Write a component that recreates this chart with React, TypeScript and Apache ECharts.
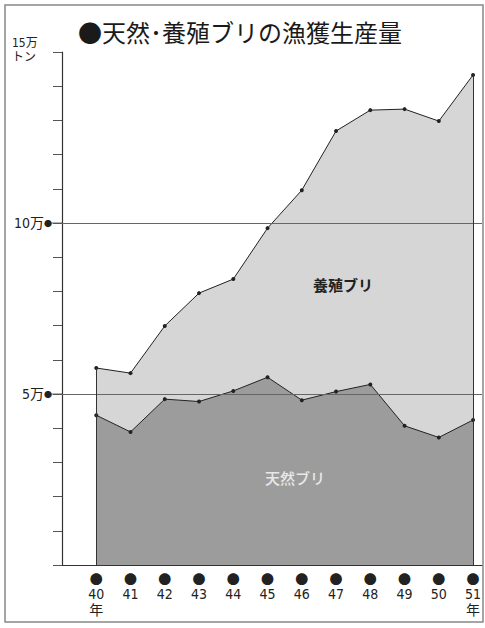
import React, { useEffect, useRef } from 'react';
import * as echarts from 'echarts';

const years = [40, 41, 42, 43, 44, 45, 46, 47, 48, 49, 50, 51];
const totalCatch = [5.76, 5.61, 6.99, 7.95, 8.36, 9.85, 10.96, 12.69, 13.3, 13.33, 12.98, 14.33];
const naturalCatch = [4.38, 3.89, 4.85, 4.78, 5.09, 5.49, 4.82, 5.07, 5.28, 4.07, 3.73, 4.24];
const gridValues = [5, 10];
const titleText = '●天然･養殖ブリの漁獲生産量';
const unitLines = ['15万', 'トン'];
const seriesNames = ['養殖ブリ', '天然ブリ'];
const labelAnchors = [
  [47.2, 8.2],
  [45.8, 2.55],
];

export default function App() {
  const ref = useRef<HTMLDivElement>(null);
  useEffect(() => {
    const chart = echarts.init(ref.current!, null, { renderer: 'svg' });
    const NUM = '"Liberation Sans Narrow", "DejaVu Sans Condensed", "Noto Sans CJK JP", sans-serif';
    const CJK = '"Noto Sans CJK JP", sans-serif';
    const first = years[0];
    const last = years[years.length - 1];
    chart.setOption({
      animation: false,
      grid: { left: 62, right: 0, top: 52, bottom: 63 },
      xAxis: {
        type: 'value',
        min: 39,
        max: 51.26,
        interval: 1,
        axisLine: { lineStyle: { color: '#333', width: 1.2 } },
        axisTick: { show: false },
        splitLine: { show: false },
        axisLabel: {
          margin: 5,
          formatter: (v: number) => {
            const r = Math.round(v);
            if (Math.abs(v - r) > 1e-6 || years.indexOf(r) < 0) return '';
            return r === first || r === last ? `{d|●}\n{n|${r}}\n{n|年}` : `{d|●}\n{n|${r}}`;
          },
          rich: {
            d: { fontSize: 13, fontFamily: CJK, color: '#222', lineHeight: 16 },
            n: { fontSize: 14, fontFamily: NUM, color: '#222', lineHeight: 16 },
          },
        },
      },
      yAxis: {
        type: 'value',
        min: 0,
        max: 15,
        interval: 1,
        axisLine: { show: true, lineStyle: { color: '#333', width: 1.2 } },
        axisTick: { show: true, inside: false, length: 9, lineStyle: { color: '#555' } },
        splitLine: { show: false },
        axisLabel: {
          margin: 10,
          formatter: (v: number) => (gridValues.indexOf(v) >= 0 ? `{t|${v}万}{d|●}` : ''),
          rich: {
            t: { fontSize: 14, fontFamily: NUM, color: '#222' },
            d: { fontSize: 8, fontFamily: CJK, color: '#222' },
          },
        },
      },
      series: [
        {
          name: seriesNames[0],
          type: 'line',
          z: 2,
          data: years.map((y, i) => [y, totalCatch[i]]),
          symbol: 'circle',
          symbolSize: 4,
          itemStyle: { color: '#222' },
          lineStyle: { color: '#222', width: 1 },
          areaStyle: { color: '#d6d6d6', opacity: 1 },
        },
        {
          name: seriesNames[1],
          type: 'line',
          z: 3,
          data: years.map((y, i) => [y, naturalCatch[i]]),
          symbol: 'circle',
          symbolSize: 4,
          itemStyle: { color: '#222' },
          lineStyle: { color: '#222', width: 1 },
          areaStyle: { color: '#9c9c9c', opacity: 1 },
          markLine: {
            silent: true,
            symbol: 'none',
            label: { show: false },
            lineStyle: { color: '#666', width: 1, type: 'solid' },
            data: [
              ...gridValues.map((v) => ({ yAxis: v })),
              [
                { coord: [first, 0], lineStyle: { color: '#333' } },
                { coord: [first, totalCatch[0]] },
              ],
              [
                { coord: [last, 0], lineStyle: { color: '#333' } },
                { coord: [last, totalCatch[totalCatch.length - 1]] },
              ],
            ],
          },
        },
      ],
    });
    const x0 = chart.convertToPixel({ xAxisIndex: 0 }, 39) as number;
    const graphics: any[] = [
      {
        type: 'rect',
        shape: { x: 5, y: 5, width: 478, height: 617 },
        style: { fill: 'none', stroke: '#888', lineWidth: 1.5 },
      },
      {
        type: 'text',
        x: 78,
        y: 31,
        style: { text: titleText, fontSize: 24, fontFamily: CJK, fill: '#1a1a1a', verticalAlign: 'middle', align: 'left' },
      },
      {
        type: 'text',
        x: 12,
        y: 36,
        style: { text: unitLines.join('\n'), fontSize: 12, lineHeight: 14, fontFamily: NUM, fill: '#222', verticalAlign: 'top' },
      },
    ];
    gridValues.forEach((v) => {
      const y = chart.convertToPixel({ yAxisIndex: 0 }, v) as number;
      graphics.push({
        type: 'line',
        shape: { x1: x0 - 14, y1: y, x2: x0, y2: y },
        style: { stroke: '#666', lineWidth: 1 },
      });
    });
    labelAnchors.forEach((a, i) => {
      const p = chart.convertToPixel({ gridIndex: 0 }, a) as number[];
      graphics.push({
        type: 'text',
        x: p[0],
        y: p[1],
        z: 10,
        style: {
          text: seriesNames[i],
          fontSize: 15,
          fontWeight: i === 0 ? 'bold' : 500,
          fontFamily: CJK,
          fill: i === 0 ? '#222' : '#e8e8e8',
          align: 'center',
          verticalAlign: 'middle',
        },
      });
    });
    chart.setOption({ graphic: graphics });
    return () => chart.dispose();
  }, []);
  return <div ref={ref} style={{ position: 'absolute', left: 0, top: 0, width: 485, height: 628 }} />;
}
